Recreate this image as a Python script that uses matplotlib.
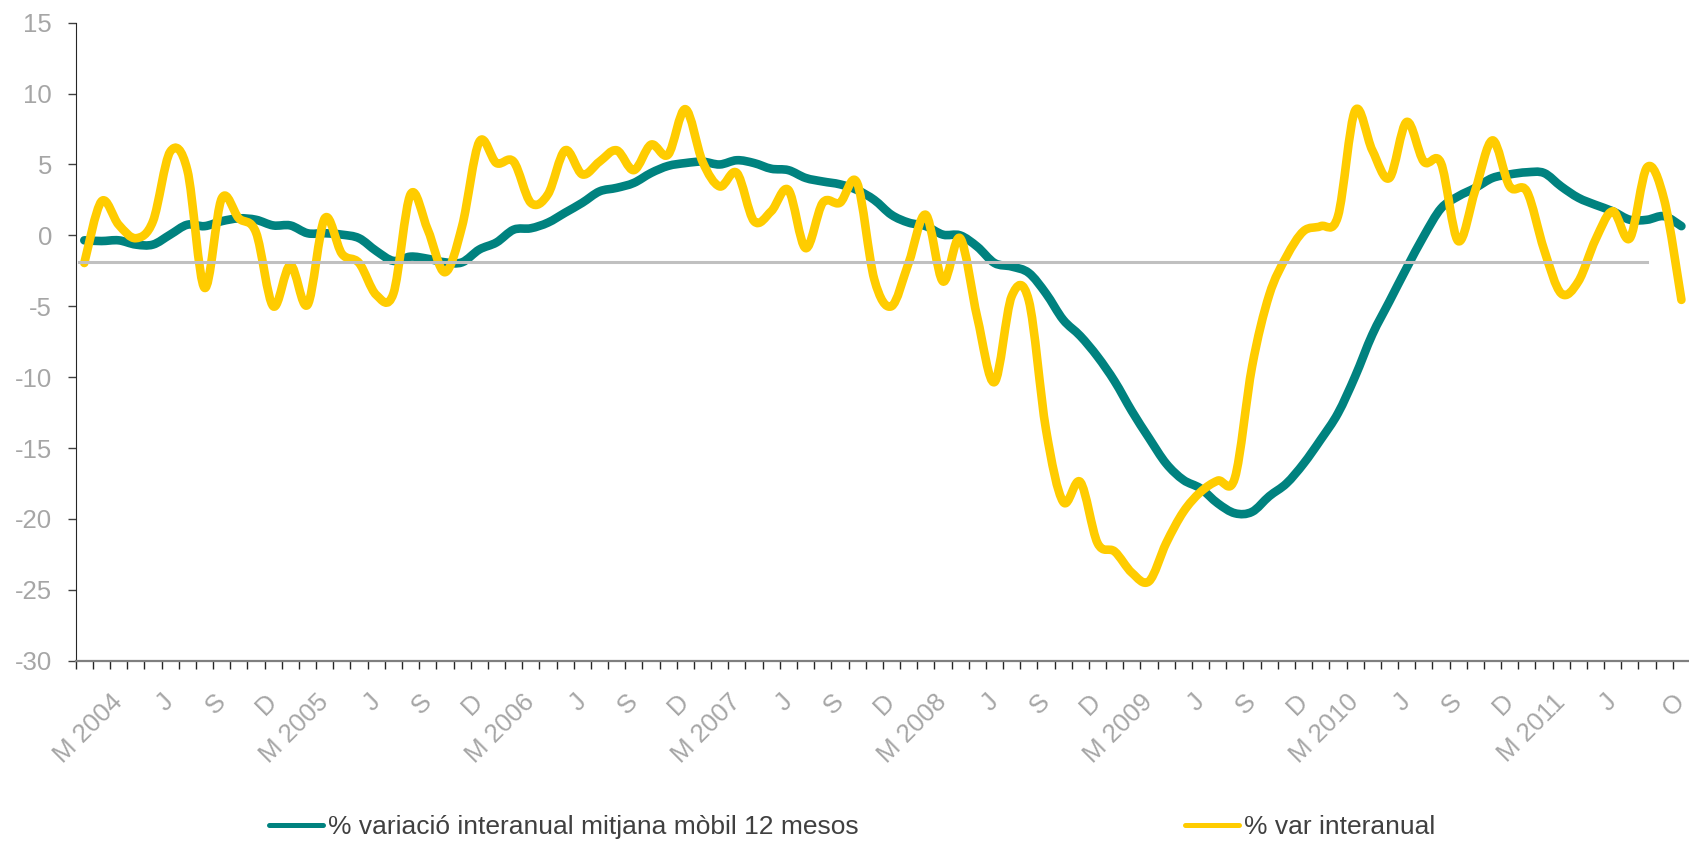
import numpy as np
import matplotlib
matplotlib.use("Agg")
import matplotlib.pyplot as plt
from matplotlib.path import Path
from matplotlib.patches import PathPatch
from matplotlib.lines import Line2D

# monthly data, Jan 2004 .. Oct 2011
mitjana_mobil = [-0.35, -0.4, -0.35, -0.65, -0.65, 0.05, 0.75, 0.65, 1.0, 1.2, 1.1, 0.7,
                 0.7, 0.15, 0.15, 0.05, -0.2, -1.1, -1.8, -1.5, -1.65, -1.9, -1.9, -1.0,
                 -0.5, 0.4, 0.5, 0.9, 1.6, 2.3, 3.1, 3.35, 3.7, 4.4, 4.9, 5.1,
                 5.2, 5.0, 5.3, 5.1, 4.7, 4.6, 4.05, 3.8, 3.6, 3.2, 2.5, 1.45,
                 0.9, 0.65, 0.05, 0.0, -0.8, -1.95, -2.2, -2.65, -4.1, -5.95, -7.1, -8.55,
                 -10.3, -12.4, -14.3, -16.1, -17.25, -17.85, -18.9, -19.6, -19.5, -18.4, -17.5, -16.1,
                 -14.4, -12.55, -9.95, -7.0, -4.65, -2.3, -0.05, 1.9, 2.75, 3.35, 4.05, 4.3,
                 4.45, 4.4, 3.45, 2.65, 2.15, 1.7, 1.1, 1.1, 1.35, 0.65]
var_interanual = [-1.95, 2.4, 0.75, -0.2, 1.0, 5.9, 4.6, -3.7, 2.6, 1.2, 0.2, -5.0,
                  -2.1, -4.9, 1.2, -1.3, -1.95, -4.2, -4.1, 2.9, 0.4, -2.6, 0.65, 6.6,
                  5.1, 5.2, 2.3, 2.9, 6.0, 4.3, 5.2, 6.0, 4.6, 6.4, 5.7, 8.9,
                  5.2, 3.45, 4.4, 1.0, 1.7, 3.2, -0.9, 2.3, 2.3, 3.7, -3.1, -5.0,
                  -1.95, 1.45, -3.25, -0.2, -5.8, -10.35, -4.3, -4.6, -13.7, -18.8, -17.4, -21.7,
                  -22.3, -23.8, -24.4, -21.7, -19.5, -18.1, -17.3, -17.1, -9.25, -4.2, -1.5, 0.3,
                  0.65, 1.35, 8.8, 6.0, 4.05, 8.0, 5.2, 5.1, -0.4, 3.2, 6.7, 3.45,
                  3.1, -1.0, -4.1, -3.25, -0.3, 1.7, -0.2, 4.8, 2.5, -4.55]
ref_level = -1.88
ref_last = 91

label_pos = [2, 5, 8, 11, 14, 17, 20, 23, 26, 29, 32, 35, 38, 41, 44, 47,
             50, 53, 56, 59, 62, 65, 68, 71, 74, 77, 80, 83, 86, 89, 93]
label_txt = ['M 2004', 'J', 'S', 'D', 'M 2005', 'J', 'S', 'D', 'M 2006', 'J', 'S', 'D',
             'M 2007', 'J', 'S', 'D', 'M 2008', 'J', 'S', 'D', 'M 2009', 'J', 'S', 'D',
             'M 2010', 'J', 'S', 'D', 'M 2011', 'J', 'O']

TEAL = '#00827F'
YELLOW = '#FFCC00'
GREY_TXT = '#A6A6A6'

plt.rcParams['font.family'] = ['Liberation Sans', 'DejaVu Sans']
plt.rcParams['axes.unicode_minus'] = False


def smooth_path(y):
    # catmull-rom style bezier through the points, like excel's smoothed line
    x = np.arange(len(y), dtype=float)
    y = np.asarray(y, dtype=float)
    verts = [(x[0], y[0])]
    codes = [Path.MOVETO]
    n = len(y)
    for i in range(n - 1):
        p0 = max(i - 1, 0)
        p3 = min(i + 2, n - 1)
        c1 = (x[i] + (x[i + 1] - x[p0]) / 6, y[i] + (y[i + 1] - y[p0]) / 6)
        c2 = (x[i + 1] - (x[p3] - x[i]) / 6, y[i + 1] - (y[p3] - y[i]) / 6)
        verts += [c1, c2, (x[i + 1], y[i + 1])]
        codes += [Path.CURVE4] * 3
    return Path(verts, codes)


fig = plt.figure(figsize=(16.9, 8.41), dpi=100)
ax = fig.add_axes([0.0448, 0.2144, 0.9552, 0.7586])

lw = 6.2
ax.add_patch(PathPatch(smooth_path(mitjana_mobil), fill=False, edgecolor=TEAL, lw=lw,
                       capstyle='round', joinstyle='round', zorder=2))
ax.add_patch(PathPatch(smooth_path(var_interanual), fill=False, edgecolor=YELLOW, lw=lw,
                       capstyle='round', joinstyle='round', zorder=3))
ax.plot([-0.3, ref_last], [ref_level, ref_level], color='#C0C0C0', lw=2.2, zorder=4)

ax.set_xlim(-0.5, len(var_interanual) - 0.5)
ax.set_ylim(-30, 15)
ax.set_yticks(range(-30, 16, 5))
ax.tick_params(axis='y', length=6, width=1, pad=11, labelsize=18.5, labelcolor=GREY_TXT, color='#404040')

ax.set_xticks(np.arange(-0.5, len(var_interanual), 1.0))
ax.tick_params(axis='x', which='major', length=6, width=1, color='#262626', labelbottom=False)
ax.set_xticks(label_pos, minor=True)
ax.set_xticklabels(label_txt, minor=True)
ax.tick_params(axis='x', which='minor', length=0, pad=27, labelsize=18.5, labelcolor=GREY_TXT)
for t in ax.get_xticklabels(minor=True):
    t.set_rotation(45)
    t.set_ha('right')
    t.set_va('center')
    t.set_rotation_mode('anchor')

for s in ['top', 'right']:
    ax.spines[s].set_visible(False)
ax.spines['left'].set_color('#262626')
ax.spines['bottom'].set_color('#7F7F7F')
ax.spines['bottom'].set_linewidth(1.6)

handles = [Line2D([], [], color=TEAL, lw=3.6, solid_capstyle='round'),
           Line2D([], [], color=YELLOW, lw=3.6, solid_capstyle='round')]
fig.legend(handles, ['% variació interanual mitjana mòbil 12 mesos', '% var interanual'],
           loc='center left', bbox_to_anchor=(269 / 1690, 1 - 827 / 841), ncol=2,
           frameon=False, fontsize=19, handlelength=2.05, handletextpad=0.2,
           columnspacing=12.35, borderpad=0, borderaxespad=0, labelcolor='#404040')

fig.savefig('out.png', dpi=100)
